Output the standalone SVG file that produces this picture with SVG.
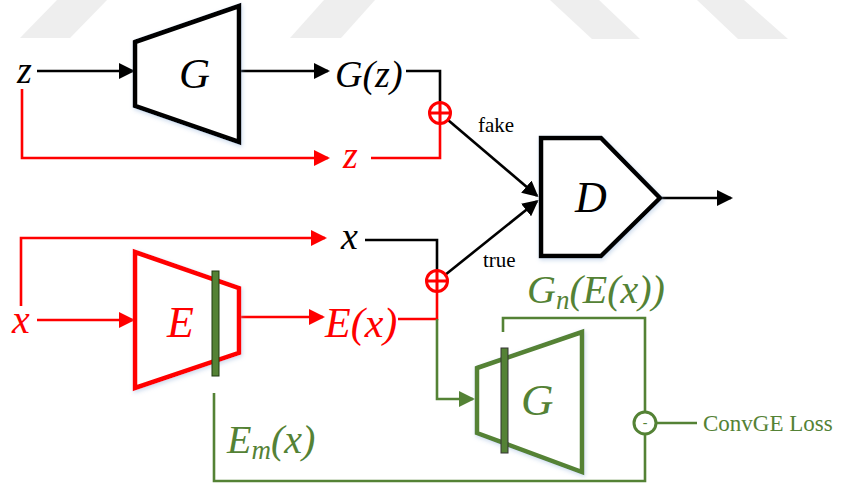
<svg xmlns="http://www.w3.org/2000/svg" width="843" height="485" viewBox="0 0 843 485">
<style>
.t{font-family:"Liberation Serif","Times New Roman",serif;font-style:italic}
.r{font-family:"Liberation Serif","Times New Roman",serif}
.blk{fill:#000}
.red{fill:#ff0000}
.grn{fill:#548235}
.cb{fill:none;stroke:#000;stroke-width:2.6}
.cr{fill:none;stroke:#ff0000;stroke-width:2.6}
.cg{fill:none;stroke:#548235;stroke-width:2.6}
.wm{fill:#eeeeee}
</style>
<defs>
<marker id="ab" markerUnits="userSpaceOnUse" markerWidth="16" markerHeight="16" refX="14" refY="8" orient="auto"><path d="M0,0 L16,8 L0,16 z" fill="#000"/></marker>
<marker id="ar" markerUnits="userSpaceOnUse" markerWidth="16" markerHeight="16" refX="14" refY="8" orient="auto"><path d="M0,0 L16,8 L0,16 z" fill="#ff0000"/></marker>
<marker id="ag" markerUnits="userSpaceOnUse" markerWidth="16" markerHeight="16" refX="14" refY="8" orient="auto"><path d="M0,0 L16,8 L0,16 z" fill="#548235"/></marker>
<filter id="sh" x="-20%" y="-20%" width="140%" height="140%"><feDropShadow dx="1" dy="2" stdDeviation="2" flood-color="#8fb0d8" flood-opacity="0.45"/></filter>
</defs>
<rect width="843" height="485" fill="#fff"/>
<g id="watermark">
<polygon class="wm" points="20,38 70,38 107,0 57,0"/>
<polygon class="wm" points="290,38 341,38 375,0 324,0"/>
<polygon class="wm" points="592,39 640,39 599,0 550,0"/>
<polygon class="wm" points="738,39 788,39 744,0 697,0"/>
</g>
<g id="connectors">
<polyline class="cb" points="37,71 133,71" marker-end="url(#ab)"/>
<polyline class="cb" points="241,71 328,71" marker-end="url(#ab)"/>
<polyline class="cb" points="406,71 440,71 440,102"/>
<polyline class="cr" points="22,89 22,158 328,158" marker-end="url(#ar)"/>
<polyline class="cr" points="371,158 440,158 440,124"/>
<line class="cb" x1="448" y1="120" x2="537" y2="195.7" marker-end="url(#ab)"/>
<line class="cb" x1="445" y1="275" x2="537" y2="201.3" marker-end="url(#ab)"/>
<polyline class="cb" points="662,198 731,198" marker-end="url(#ab)"/>
<polyline class="cr" points="21,306 21,238 325,238" marker-end="url(#ar)"/>
<polyline class="cb" points="365,240 437,240 437,270"/>
<polyline class="cr" points="37,320 133,320" marker-end="url(#ar)"/>
<polyline class="cr" points="241,317 323,317" marker-end="url(#ar)"/>
<polyline class="cr" points="398,319 437,319 437,292"/>
<polyline class="cg" points="437,319 437,399 473,399" marker-end="url(#ag)"/>
<polyline class="cg" points="503,332 503,318 645,318 645,412"/>
<polyline class="cg" points="645,434 645,481 214,481 214,393"/>
<line class="cg" x1="656" y1="423" x2="697" y2="423"/>
<text class="r" x="478" y="132" font-size="21">fake</text>
<text class="r" x="483" y="267" font-size="21">true</text>
</g>
<g id="z-in"><text class="t blk" x="17" y="83" font-size="38">z</text></g>
<g id="G-top">
<polygon points="135,42 239,6 239,142 135,106" fill="#fff" stroke="#000" stroke-width="4.5" filter="url(#sh)"/>
<text class="t blk" x="179" y="88" font-size="43">G</text>
</g>
<g id="Gz"><text class="t blk" x="335" y="87" font-size="38">G(z)</text></g>
<g id="z-red"><text class="t red" x="343" y="168" font-size="38">z</text></g>
<g id="sum-top">
<circle cx="440" cy="113" r="10.5" fill="#fff" stroke="#ff0000" stroke-width="3"/>
<path d="M429.5,113 H450.5 M440,102.5 V123.5" stroke="#ff0000" stroke-width="3"/>
</g>
<g id="D">
<polygon points="541,138 601,138 660,198 601,256 541,256" fill="#fff" stroke="#000" stroke-width="4.5" filter="url(#sh)"/>
<text class="t blk" x="575" y="212" font-size="44">D</text>
</g>
<g id="x-black"><text class="t blk" x="341" y="249" font-size="38">x</text></g>
<g id="sum-bottom">
<circle cx="437" cy="281" r="10.5" fill="#fff" stroke="#ff0000" stroke-width="3"/>
<path d="M426.5,281 H447.5 M437,270.5 V291.5" stroke="#ff0000" stroke-width="3"/>
</g>
<g id="x-red"><text class="t red" x="12" y="333" font-size="40">x</text></g>
<g id="E">
<polygon points="135,252 239,288 239,353 135,388" fill="#fff" stroke="#ff0000" stroke-width="4.5" filter="url(#sh)"/>
<rect x="212" y="271" width="7" height="105" fill="#548235" stroke="#1f3a10" stroke-width="1"/>
<text class="t red" x="167" y="337" font-size="44">E</text>
</g>
<g id="Ex"><text class="t red" x="325" y="337" font-size="42">E(x)</text></g>
<g id="G-green">
<polygon points="477,368 582,332 582,472 477,433" fill="#fff" stroke="#548235" stroke-width="4.5" filter="url(#sh)"/>
<rect x="501" y="348" width="7" height="105" fill="#548235" stroke="#333" stroke-width="1"/>
<text class="t grn" x="521" y="415" font-size="45">G</text>
</g>
<g id="GnEx"><text class="t grn" x="527" y="303" font-size="40">G<tspan font-size="27" dy="6">n</tspan><tspan dy="-6">(E(x))</tspan></text></g>
<g id="Emx"><text class="t grn" x="227" y="453" font-size="40">E<tspan font-size="27" dy="6">m</tspan><tspan dy="-6">(x)</tspan></text></g>
<g id="minus">
<circle cx="645" cy="423" r="11" fill="#fff" stroke="#548235" stroke-width="3"/>
<text class="r grn" x="645" y="427" font-size="14" text-anchor="middle">-</text>
</g>
<g id="loss"><text class="r grn" x="703" y="431" font-size="23">ConvGE Loss</text></g>
</svg>
